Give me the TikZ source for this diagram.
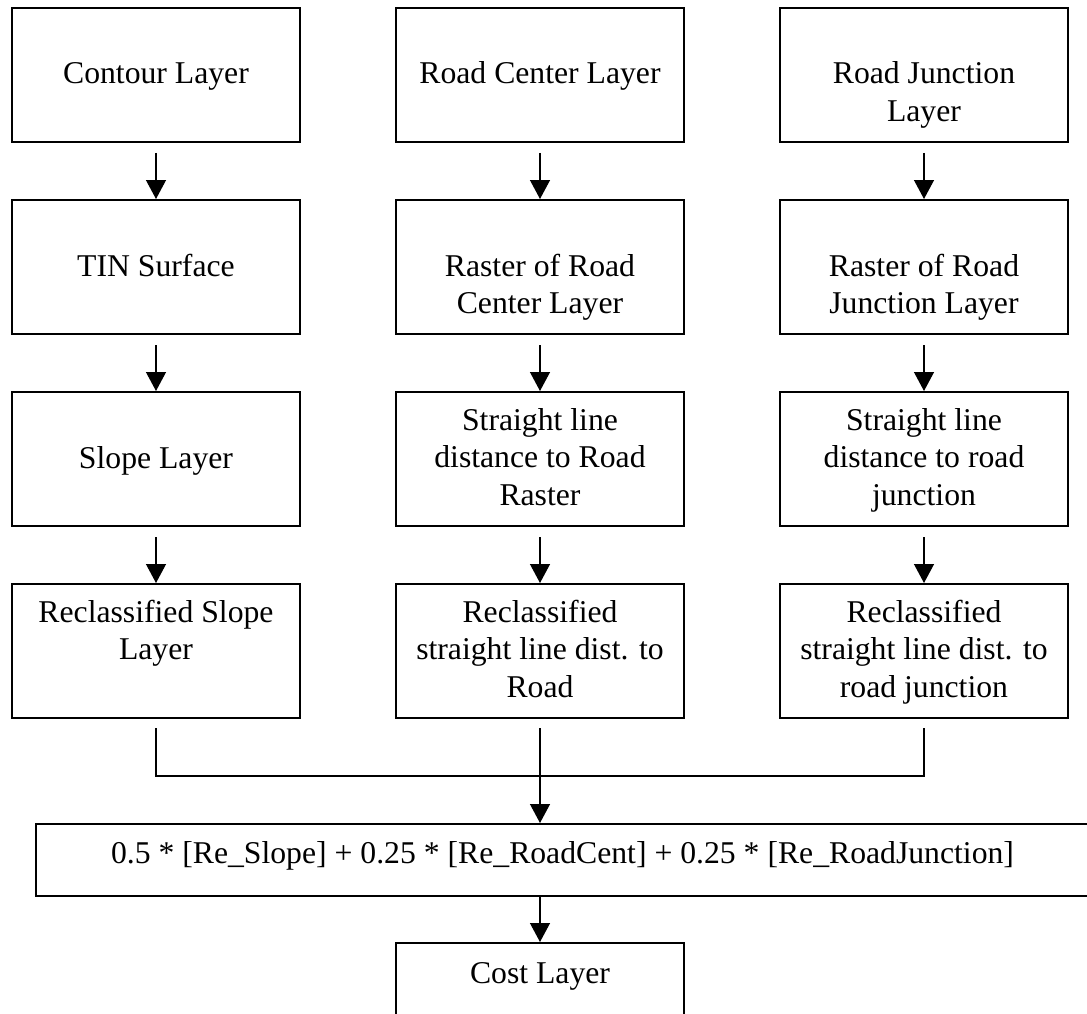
\documentclass[tikz,border=0pt]{standalone}
\usepackage{fontspec}
\setmainfont{Liberation Serif}
\usetikzlibrary{arrows.meta}

% text hangs from the top of its box, first baseline #2 below the top
\newcommand{\layertext}[3][134pt]{\parbox[c][#1][t]{280pt}{\centering\rule{0pt}{#2}#3}}

\begin{document}
\begin{tikzpicture}[x=1pt, y=-1pt,
        layer/.style = {draw, line width=2pt, inner sep=0pt, minimum width=288pt, font=\fontsize{31.7}{37.5}\selectfont},
        flow/.style = {-{Triangle[length=19pt,width=20pt]}, line width=1.3pt}]
    \clip (0,0) rectangle (1087,1014);

    % slope branch
    \node[layer] (contour) at (156,75) {\layertext{76pt}{Contour Layer}};
    \node[layer] (tin) at (156,267) {\layertext{76pt}{TIN Surface}};
    \node[layer] (slope) at (156,459) {\layertext{76pt}{Slope Layer}};
    \node[layer] (slopecls) at (156,651) {\layertext{38pt}{Reclassified Slope\\Layer}};

    % road center branch
    \node[layer] (road) at (540,75) {\layertext{76pt}{Road Center Layer}};
    \node[layer] (roadras) at (540,267) {\layertext{76pt}{Raster of Road\\Center Layer}};
    \node[layer] (roaddist) at (540,459) {\layertext{38pt}{Straight line\\distance to Road\\Raster}};
    \node[layer] (roadcls) at (540,651) {\layertext{38pt}{Reclassified\\straight line dist. to\\Road}};

    % road junction branch
    \node[layer] (junc) at (924,75) {\layertext{76pt}{Road Junction\\Layer}};
    \node[layer] (juncras) at (924,267) {\layertext{76pt}{Raster of Road\\Junction Layer}};
    \node[layer] (juncdist) at (924,459) {\layertext{38pt}{Straight line\\distance to road\\junction}};
    \node[layer] (junccls) at (924,651) {\layertext{38pt}{Reclassified\\straight line dist. to\\road junction}};

    % weighted overlay and result
    \node[layer, minimum width=1053pt] (weighted) at (562.5,860)
        {\parbox[c][72pt][t]{1000pt}{\centering\rule{0pt}{39pt}0.5 * [Re\_Slope] + 0.25 * [Re\_RoadCent] + 0.25 * [Re\_RoadJunction]}};
    \node[layer] (cost) at (540,1010) {\layertext{40pt}{Cost Layer}};

    \draw[flow] ([yshift=-10pt]contour.south) -- (tin.north);
    \draw[flow] ([yshift=-10pt]tin.south) -- (slope.north);
    \draw[flow] ([yshift=-10pt]slope.south) -- (slopecls.north);

    \draw[flow] ([yshift=-10pt]road.south) -- (roadras.north);
    \draw[flow] ([yshift=-10pt]roadras.south) -- (roaddist.north);
    \draw[flow] ([yshift=-10pt]roaddist.south) -- (roadcls.north);

    \draw[flow] ([yshift=-10pt]junc.south) -- (juncras.north);
    \draw[flow] ([yshift=-10pt]juncras.south) -- (juncdist.north);
    \draw[flow] ([yshift=-10pt]juncdist.south) -- (junccls.north);

    % join the three reclassified layers
    \coordinate (join) at (540,776);
    \draw[line width=1.5pt] ([yshift=-9pt]slopecls.south) |- (join) -| ([yshift=-9pt]junccls.south);
    \draw[flow] ([yshift=-9pt]roadcls.south) -- (roadcls.south |- weighted.north);
    \draw[flow] (cost.north |- weighted.south) -- (cost.north);
\end{tikzpicture}
\end{document}
